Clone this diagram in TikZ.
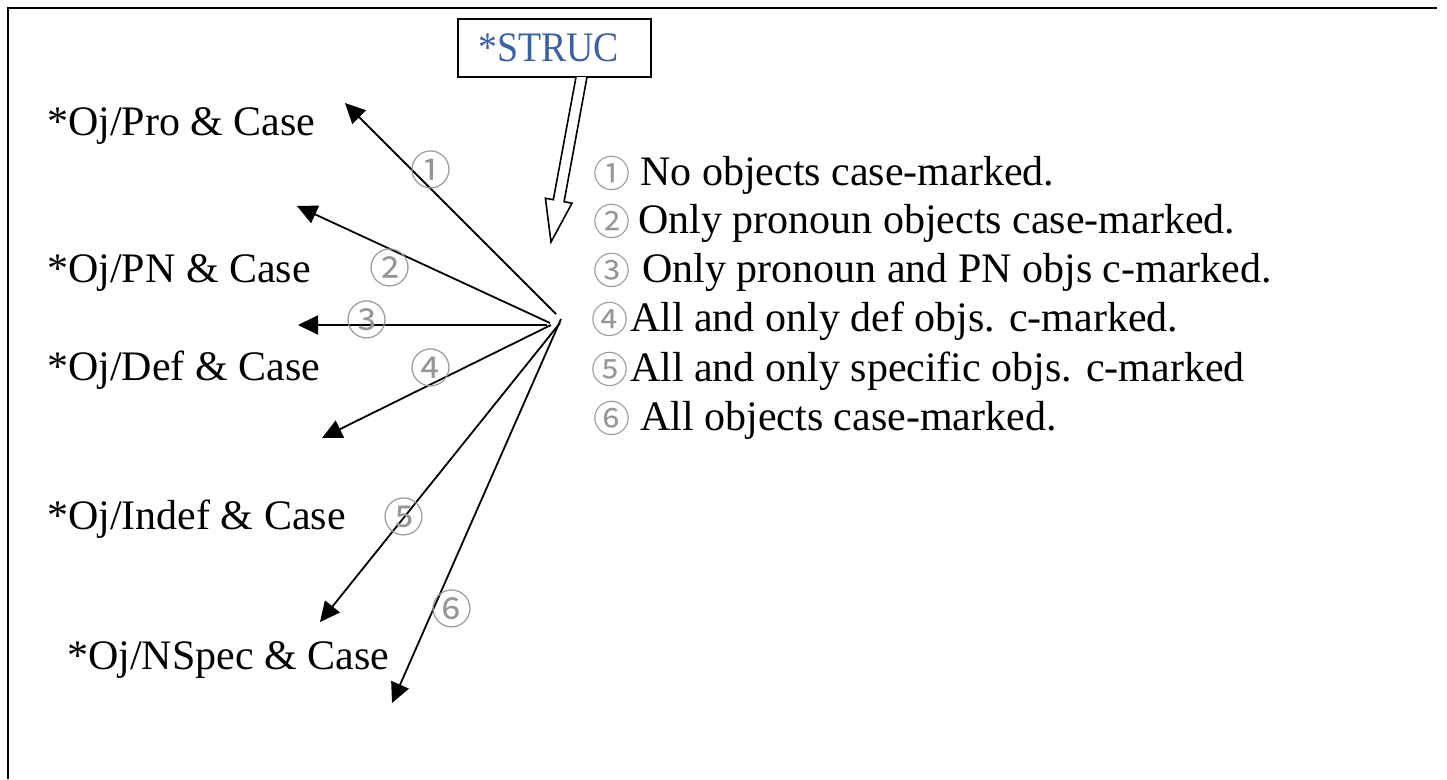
\documentclass[tikz,border=0pt]{standalone}
\usepackage{fontspec}
\setmainfont{Liberation Serif}
\newfontfamily\circfont{Noto Sans CJK JP}
\usetikzlibrary{arrows.meta}
\definecolor{strucblue}{RGB}{58,96,166}
\definecolor{circgray}{RGB}{150,150,150}
% circled number at the head of a legend line: fixed-width box plus gap
\newcommand{\cnum}[2]{\makebox[28pt][c]{\raisebox{-2pt}{\circfont\fontsize{37}{37}\selectfont\color{circgray}#1}}\hspace*{#2}}
\begin{document}
\begin{tikzpicture}[x=1pt,y=-1pt,
  frame/.style={line width=2pt},
  lbl/.style={anchor=base west, inner sep=0pt, font=\fontsize{42}{50}\selectfont},
  desc/.style={anchor=base west, inner sep=0pt, font=\fontsize{42}{50}\selectfont},
  arr/.style={line width=1.8pt, -{Triangle[length=20pt,width=19pt]}},
  num/.style={inner sep=0pt, text=circgray, font=\circfont\fontsize{41}{41}\selectfont},
  strucbox/.style={draw, line width=1.6pt, minimum width=193pt, minimum height=58pt,
    inner sep=0pt, text=strucblue, font=\fontsize{42}{50}\selectfont},
  hollow/.style={draw, line width=1.6pt, fill=white, line join=miter}]
\useasboundingbox (0,0) rectangle (1447,779);
% open frame: left and top rules only
\draw[frame] (8,779) -- (8,8) -- (1437,8);

% constraint box and its hollow block arrow
\node[strucbox] (struc) at (554.5,48) {\hspace*{-12pt}\scalebox{0.9}[1]{*STRUC}};
\coordinate (drop) at (551,242);
\draw[hollow] (576,77) -- (553.3,199.7) -- (545.4,198.2) -- (drop)
  -- (572.0,203.2) -- (564.1,201.7) -- (587,77);

% ranking candidates on the left
\node[lbl] (oj1) at (47,135) {*Oj/Pro \& Case};
\node[lbl] (oj2) at (47,282) {*Oj/PN \& Case};
\node[lbl] (oj3) at (47,380) {*Oj/Def \& Case};
\node[lbl] (oj4) at (47,529) {*Oj/Indef \& Case};
\node[lbl] (oj5) at (67,669) {*Oj/NSpec \& Case};

% fan of arrows
\coordinate (h1) at (556,314);
\coordinate (h2) at (550,323);
\coordinate (h3) at (547,325);
\coordinate (h4) at (551,325);
\coordinate (h5) at (560,323);
\coordinate (h6) at (561,319);
\coordinate (t1) at (345,103);
\coordinate (t2) at (297,206);
\coordinate (t3) at (298,325);
\coordinate (t4) at (322,438);
\coordinate (t5) at (320,622);
\coordinate (t6) at (392,703);
\draw[arr] (h1) -- (t1);
\draw[arr] (h2) -- (t2);
\draw[arr] (h3) -- (t3);
\draw[arr] (h4) -- (t4);
\draw[arr] (h5) -- (t5);
\draw[arr] (h6) -- (t6);

% arrow numbers
\node[num] (n1) at (431,170) {①};
\node[num] (n2) at (390,268) {②};
\node[num] (n3) at (367,320) {③};
\node[num] (n4) at (431,368) {④};
\node[num] (n5) at (404,517) {⑤};
\node[num] (n6) at (452,609) {⑥};

% legend
\node[desc] (d1) at (598,185) {\cnum{①}{14pt}No objects case-marked.};
\node[desc] (d2) at (598,233) {\cnum{②}{12pt}Only pronoun objects case-marked.};
\node[desc] (d3) at (598,282) {\cnum{③}{16pt}Only pronoun and PN objs c-marked.};
\node[desc] (d4) at (596,331) {\cnum{④}{6pt}All and only def objs. c-marked.};
\node[desc] (d5) at (596,381) {\cnum{⑤}{6pt}All and only specific objs. c-marked};
\node[desc] (d6) at (598,430) {\cnum{⑥}{14pt}All objects case-marked.};
\end{tikzpicture}
\end{document}
